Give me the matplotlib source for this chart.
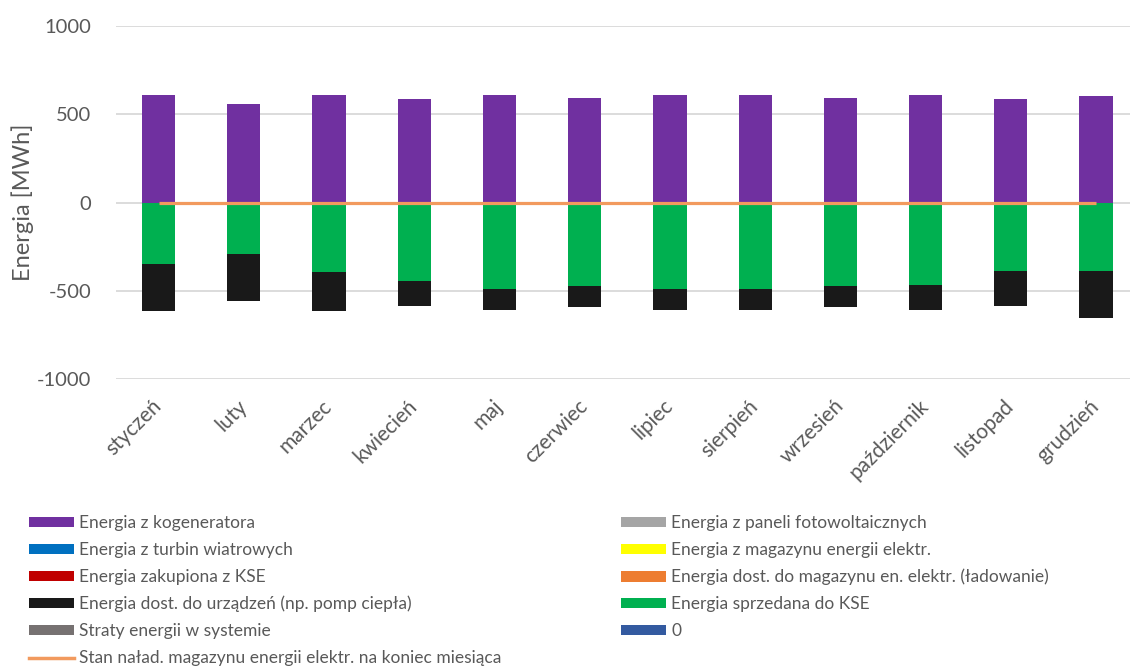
import matplotlib
matplotlib.use("Agg")
import matplotlib.pyplot as plt
import numpy as np
from matplotlib.patches import Patch
from matplotlib.lines import Line2D

plt.rcParams['font.family'] = ['Lato', 'DejaVu Sans']

months = ["styczeń", "luty", "marzec", "kwiecień", "maj", "czerwiec",
          "lipiec", "sierpień", "wrzesień", "październik", "listopad", "grudzień"]

# Monthly energy balance [MWh]
kogenerator = [610, 557, 610, 585, 609, 589, 609, 609, 589, 610, 584, 605]
fotowoltaika = [0] * 12
turbiny = [0] * 12
z_magazynu = [0] * 12
zakup_kse = [0] * 12
ladowanie = [0] * 12
do_urzadzen = [-265, -265, -222, -140, -119, -116, -119, -119, -116, -145, -196, -264]
sprzedaz_kse = [-346, -293, -391, -446, -490, -473, -490, -490, -473, -464, -389, -389]
straty = [0] * 12
zero_series = [0] * 12
stan_magazynu = [0] * 12

yticks = [-1000, -500, 0, 500, 1000]

C_KOG = "#7030A0"
C_PV = "#A5A5A5"
C_WIND = "#0070C0"
C_MAG = "#FFFF00"
C_KSE_BUY = "#C00000"
C_CHARGE = "#ED7D31"
C_DEV = "#191919"
C_SELL = "#00B050"
C_LOSS = "#767171"
C_ZERO = "#335AA0"
C_SOC = "#F29A5E"
TXT = "#595959"

fig = plt.figure(figsize=(11.3, 6.7), dpi=100)
ax = fig.add_axes([116 / 1130, (670 - 379.3) / 670, 1022.6 / 1130, 353.6 / 670])

x = np.arange(len(months))
w = 0.39

# positive stack
pos_series = [(kogenerator, C_KOG), (fotowoltaika, C_PV), (turbiny, C_WIND),
              (z_magazynu, C_MAG), (zakup_kse, C_KSE_BUY)]
base = np.zeros(12)
for vals, col in pos_series:
    v = np.array(vals, dtype=float)
    ax.bar(x, v, w, bottom=base, color=col, linewidth=0, zorder=2)
    base += v

# negative stack
neg_series = [(sprzedaz_kse, C_SELL), (do_urzadzen, C_DEV), (ladowanie, C_CHARGE),
              (straty, C_LOSS), (zero_series, C_ZERO)]
base = np.zeros(12)
for vals, col in neg_series:
    v = np.array(vals, dtype=float)
    ax.bar(x, v, w, bottom=base, color=col, linewidth=0, zorder=2)
    base += v

ax.plot(x, stan_magazynu, color=C_SOC, linewidth=2.3, zorder=3, solid_capstyle='butt')

ax.set_xlim(-0.5, len(months) - 0.5)
ax.set_ylim(-1000, 1000)
ax.set_yticks(yticks)
ax.set_yticklabels([str(t) for t in yticks])
ax.grid(axis='y', color="#D9D9D9", linewidth=1.3, zorder=0)
ax.set_axisbelow(True)
for s in ax.spines.values():
    s.set_visible(False)
ax.tick_params(axis='both', length=0, colors=TXT, labelsize=14.5)
ax.tick_params(axis='y', pad=18)
ax.set_xticks(x)
ax.set_xticklabels(months, rotation=45, ha='right', va='center',
                   rotation_mode='anchor', fontsize=15)
ax.tick_params(axis='x', pad=17)
ax.set_ylabel("Energia [MWh]", fontsize=17, color=TXT)
ax.yaxis.set_label_coords(-(116 - 34) / 1022.6, 0.5)

# legend, two columns
def patch(c):
    return Patch(facecolor=c, edgecolor='none')

left_h = [patch(C_KOG), patch(C_WIND), patch(C_KSE_BUY), patch(C_DEV), patch(C_LOSS),
          Line2D([], [], color=C_SOC, linewidth=2.5)]
left_l = ["Energia z kogeneratora", "Energia z turbin wiatrowych",
          "Energia zakupiona z KSE", "Energia dost. do urządzeń (np. pomp ciepła)",
          "Straty energii w systemie",
          "Stan naład. magazynu energii elektr. na koniec miesiąca"]
right_h = [patch(C_PV), patch(C_MAG), patch(C_CHARGE), patch(C_SELL), patch(C_ZERO)]
right_l = ["Energia z paneli fotowoltaicznych", "Energia z magazynu energii elektr.",
           "Energia dost. do magazynu en. elektr. (ładowanie)",
           "Energia sprzedana do KSE", "0"]

leg_kw = dict(frameon=False, fontsize=12.5, labelcolor=TXT, handlelength=2.6,
              handleheight=0.55, handletextpad=0.3, labelspacing=0.63,
              borderpad=0, borderaxespad=0)
l1 = fig.legend(left_h, left_l, loc='upper left',
                bbox_to_anchor=(29 / 1130, 1 - 515 / 670), **leg_kw)
l2 = fig.legend(right_h, right_l, loc='upper left',
                bbox_to_anchor=(621 / 1130, 1 - 515 / 670), **leg_kw)

fig.savefig("out.png", dpi=100)
